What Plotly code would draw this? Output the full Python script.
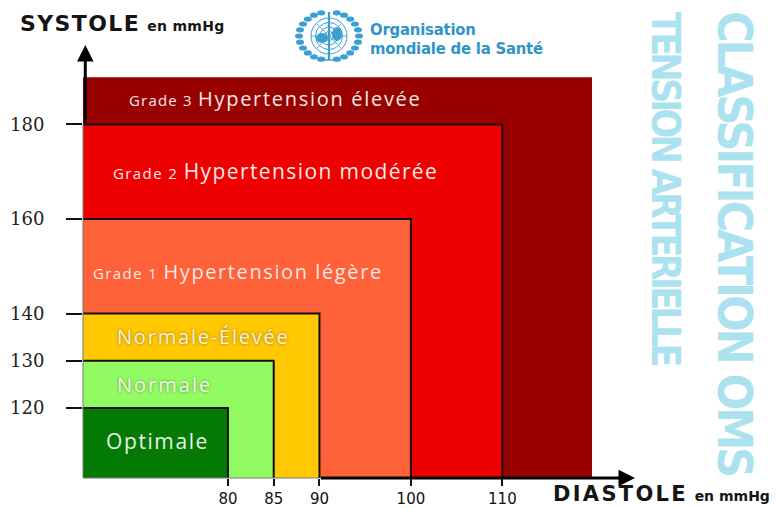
import math
import plotly.graph_objects as go

# ---- data ----
categories = ["Grade 3", "Grade 2", "Grade 1", "Normale-Élevée", "Normale", "Optimale"]
systole_upper = [190, 180, 160, 140, 130, 120]
diastole_upper = [119.8, 110, 100, 90, 85, 80]
colors = ["#990000", "#EE0000", "#FF6139", "#FFC800", "#93FB62", "#047A04"]
systole_ticks = [120, 130, 140, 160, 180]
diastole_ticks = [80, 85, 90, 100, 110]

X0, X1, Y0, Y1 = 64.15, 124.5, 105.2, 196.8
W, H = 776, 508
L, R, T, B = 83, 635, 45, 478


def px(x):
    return (x - L) / (R - L)


def py(y):
    return (B - y) / (B - T)


fig = go.Figure()
for name, s, d, c in zip(categories, systole_upper, diastole_upper, colors):
    fig.add_trace(go.Scatter(
        x=[X0, d, d, X0, X0], y=[Y0, Y0, s, s, Y0], mode="lines", fill="toself",
        fillcolor=c, line=dict(width=0), name=name, hoverinfo="name", showlegend=False))
for name, s, d in list(zip(categories, systole_upper, diastole_upper))[1:]:
    fig.add_trace(go.Scatter(
        x=[X0, d, d], y=[s, s, Y0], mode="lines",
        line=dict(color="#111111", width=2), hoverinfo="skip", showlegend=False))

shapes = [
    dict(type="line", xref="paper", yref="paper", x0=0, x1=0, y0=py(478), y1=py(124),
         line=dict(color="#777777", width=1)),
    dict(type="line", xref="paper", yref="paper", x0=0, x1=px(319), y0=py(478), y1=py(478),
         line=dict(color="#777777", width=1)),
]
LOGO = "#3A9FD2"


def circle(cx, cy, rx, ry, width=1.0, fill=None, color=LOGO):
    return dict(type="circle", xref="paper", yref="paper", x0=px(cx - rx), x1=px(cx + rx),
                y0=py(cy + ry), y1=py(cy - ry), line=dict(color=color, width=width),
                fillcolor=fill or "rgba(0,0,0,0)", layer="above")


def seg(x0, y0, x1, y1, width=1.0, color=LOGO):
    return dict(type="line", xref="paper", yref="paper", x0=px(x0), x1=px(x1), y0=py(y0), y1=py(y1),
                line=dict(color=color, width=width), layer="above")


cx, cy = 329, 36
for r in (18, 13.5, 9, 4.5):
    shapes.append(circle(cx, cy, r, r, 1.0))
for a in range(0, 180, 45):
    c_, s_ = math.cos(math.radians(a)), math.sin(math.radians(a))
    shapes.append(seg(cx - 18 * c_, cy - 18 * s_, cx + 18 * c_, cy + 18 * s_, 0.8))
shapes.append(seg(cx, 12, cx, 60, 2.2))
shapes.append(circle(cx - 7, cy + 2, 6, 5, 0, LOGO))
shapes.append(circle(cx + 8, cy - 2, 5, 7, 0, LOGO))
for a in range(-75, 76, 15):
    t = math.radians(a)
    for side in (-1, 1):
        shapes.append(circle(cx + side * 30 * math.cos(t), cy + 24 * math.sin(t), 4.0, 2.6, 0, LOGO))
shapes.append(seg(cx - 12, 60, cx + 12, 60, 1.5))

ann = []


def text(x, y, s, size, color="#111111", family="Open Sans", anchor="left", angle=0, shadow=None):
    font = dict(size=size, color=color, family=family)
    if shadow:
        font["shadow"] = shadow
    ann.append(dict(x=px(x), y=py(y), xref="paper", yref="paper", text=s, showarrow=False,
                    xanchor=anchor, yanchor="middle", font=font, textangle=angle, align="left"))


def sp(s, size, spacing):
    return f"<span style='font-size:{size}px;letter-spacing:{spacing}px'>{s}</span>"


WHITE = "#F6E9E4"
text(127, 98, sp("Grade 3", 15, 1.2) + " " + sp("Hypertension élevée", 20, 1.7), 20, WHITE)
text(111, 171, sp("Grade 2", 15, 1.4) + " " + sp("Hypertension modérée", 21, 1.4), 21, WHITE)
text(91, 271, sp("Grade 1", 15, 1.4) + " " + sp("Hypertension légère", 20, 1.6), 20, WHITE)
text(115, 336, sp("Normale-Élevée", 20, 1.8), 20, "#FBF3D8", shadow="0 0 3px #8a6a20")
text(115, 384, sp("Normale", 20, 2), 20, "#F3FBE8", shadow="0 0 3px #4f8a30")
text(104, 441, sp("Optimale", 21, 1.6), 21, "#E6F3E6")
text(18, 24, "<b>" + sp("SYSTOLE", 22, 1.4) + "</b> <b>" + sp("en mmHg", 14, 0.3) + "</b>", 22, "#151515", "DejaVu Sans")
text(551, 494, "<b>" + sp("DIASTOLE", 21, 2.3) + "</b> <b>" + sp("en mmHg", 14, 0) + "</b>", 21, "#151515", "DejaVu Sans")
COND = "DejaVu Sans Condensed, Liberation Sans"
text(368, 29, "<b>" + sp("Organisation", 16.5, -0.2) + "</b>", 16.5, "#2F95C6", COND)
text(368, 48, "<b>" + sp("mondiale de la Santé", 16.5, -0.2) + "</b>", 16.5, "#2F95C6", COND)
text(735, 243, "<b>" + sp("CLASSIFICATION OMS", 48, -3.1) + "</b>", 48, "#ABE2F0", COND, "center", 90)
text(666, 188, "<b>" + sp("TENSION ARTERIELLE", 39, -3.8) + "</b>", 39, "#ABE2F0", COND, "center", 90)

ann.append(dict(x=X0 + 0.25, y=Y1, ax=X0 + 0.25, ay=180, xref="x", yref="y", axref="x", ayref="y", text="",
                showarrow=True, arrowhead=2, arrowsize=1.1, arrowwidth=3, arrowcolor="#000000"))
ann.append(dict(x=X1, y=Y0, ax=90, ay=Y0, xref="x", yref="y", axref="x", ayref="y", text="",
                showarrow=True, arrowhead=2, arrowsize=1.1, arrowwidth=3, arrowcolor="#000000"))

fig.update_layout(
    width=W, height=H, autosize=False,
    margin=dict(l=L, r=W - R, t=T, b=H - B, pad=0),
    paper_bgcolor="#FFFFFF", plot_bgcolor="#FFFFFF",
    shapes=shapes, annotations=ann, showlegend=False,
    xaxis=dict(range=[X0, X1], tickmode="array", tickvals=diastole_ticks, automargin=False,
               ticktext=[str(v) for v in diastole_ticks], showgrid=False, zeroline=False, showline=False,
               ticks="outside", ticklen=7, tickwidth=2, tickcolor="#111111",
               tickfont=dict(family="DejaVu Sans", size=15, color="#111111")),
    yaxis=dict(range=[Y0, Y1], tickmode="array", tickvals=systole_ticks, automargin=False,
               ticktext=[str(v) for v in systole_ticks], showgrid=False, zeroline=False, showline=False,
               ticks="outside", ticklen=16, tickwidth=2, tickcolor="#111111",
               tickfont=dict(family="DejaVu Serif", size=18, color="#222222"), ticklabelstandoff=18),
)
fig.write_html("out.html", config={"displayModeBar": False}, post_script="document.body.style.margin='0';")
